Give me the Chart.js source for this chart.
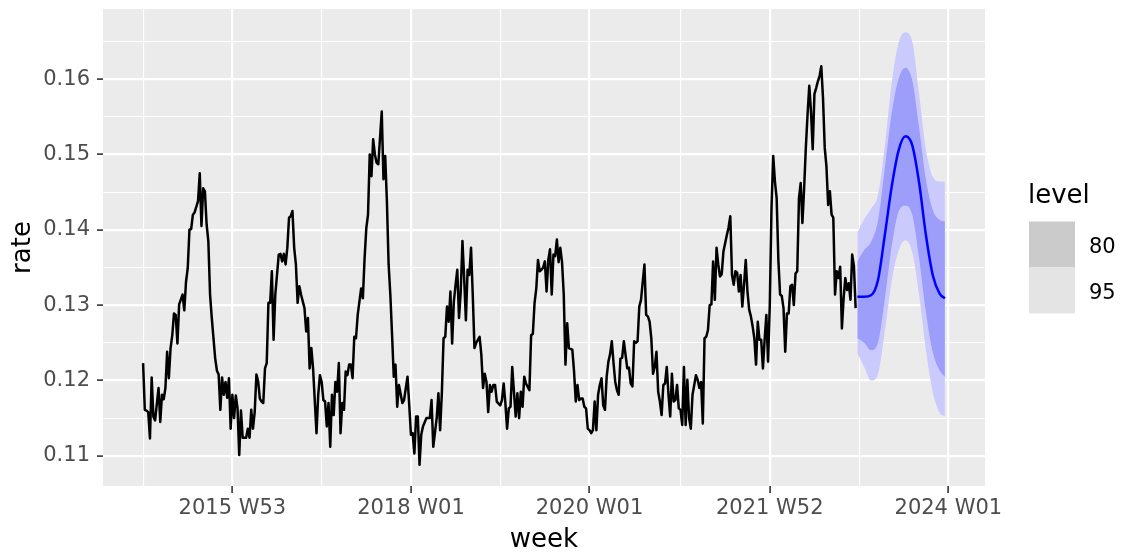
<!DOCTYPE html>
<html>
<head>
<meta charset="utf-8">
<script src="https://cdn.jsdelivr.net/npm/chart.js@4/dist/chart.umd.min.js"></script>
<style>
  html, body { margin:0; padding:0; background:#fff; }
  canvas { display:block; }
</style>
</head>
<body>
<canvas id="fc" width="1123" height="554"></canvas>
<script>
/* Weekly rate with one-year forecast (80 / 95 intervals), ggplot look. */

// observed series, keyed by week index since first obs
const obsWeek = [0,1,2,3,4,5,6,7,9,10,11,12,13,14,15,16,17,18,19,20,21,23,24,25,26,27,28,29,30,32,33,34,35,36,37,38,39,40,42,43,44,45,46,47,48,49,50,51,52,53,54,55,56,57,58,60,61,62,63,64,65,66,67,68,69,70,71,72,73,74,75,76,77,78,79,80,81,82,83,84,85,86,87,88,89,90,91,92,93,94,95,96,97,98,99,101,102,103,104,105,106,107,108,109,110,111,112,113,114,115,116,117,118,119,120,121,122,123,124,125,126,127,128,129,130,131,132,133,134,135,136,137,139,140,141,142,143,144,145,146,147,148,149,151,152,154,155,156,157,158,159,160,161,162,163,165,166,167,168,169,171,172,173,174,175,176,177,178,179,180,181,182,183,184,185,186,187,188,189,190,191,192,193,194,195,196,197,198,199,200,201,202,203,204,205,206,208,209,210,211,212,213,214,215,216,217,218,219,220,221,222,223,225,226,227,228,229,230,231,232,233,234,235,236,237,238,239,240,241,242,243,244,245,246,247,248,250,251,252,253,254,255,256,257,258,259,260,261,262,263,264,265,266,267,268,269,270,271,272,273,274,275,276,277,278,279,280,281,282,283,284,285,286,287,288,289,290,291,292,293,294,295,296,297,298,299,300,301,302,303,304,305,306,307,308,309,310,311,312,313,314,315,316,317,318,319,320,321,322,323,324,325,326,327,328,329,330,331,332,333,334,335,336,337,338,340,341,342,343,344,345,346,347,348,349,350,351,352,353,354,355,356,357,358,359,360,361,362,363,364,365,366,367,368,369,370,371,372,373,374,375,376,377,378,379,380,381,382,383,384,385,386,387,388,389,390,391,392,393,394,395,396,397,398,399,400,401,402,403,404,405,406,407,408,409,410,411,412,413,414,415];
const obsRate = [.1223,.1161,.1160,.1158,.1123,.1204,.1152,.1147,.1190,.1145,.1181,.1175,.1190,.1238,.1203,.1243,.1260,.1289,.1287,.1249,.1301,.1314,.1293,.1331,.1349,.1400,.1401,.1420,.1423,.1438,.1475,.1405,.1455,.1451,.1407,.1385,.1314,.1283,.1229,.1213,.1208,.1161,.1204,.1181,.1198,.1177,.1203,.1136,.1181,.1150,.1180,.1163,.1101,.1160,.1124,.1124,.1136,.1124,.1161,.1136,.1158,.1208,.1199,.1176,.1172,.1170,.1216,.1223,.1303,.1303,.1345,.1254,.1314,.1340,.1367,.1368,.1358,.1368,.1354,.1376,.1416,.1418,.1425,.1376,.1354,.1303,.1325,.1314,.1305,.1296,.1265,.1283,.1216,.1243,.1216,.1130,.1181,.1207,.1198,.1174,.1172,.1139,.1170,.1112,.1181,.1154,.1198,.1185,.1223,.1130,.1170,.1161,.1212,.1207,.1221,.1221,.1203,.1258,.1256,.1287,.1305,.1322,.1309,.1362,.1402,.1420,.1500,.1471,.1520,.1500,.1489,.1487,.1557,.1467,.1498,.1438,.1354,.1314,.1261,.1205,.1221,.1165,.1194,.1170,.1174,.1205,.1168,.1128,.1130,.1103,.1152,.1152,.1088,.1128,.1139,.1150,.1150,.1150,.1174,.1112,.1150,.1183,.1134,.1183,.1256,.1258,.1298,.1278,.1318,.1249,.1305,.1327,.1347,.1283,.1318,.1385,.1336,.1280,.1347,.1340,.1376,.1314,.1243,.1250,.1254,.1258,.1234,.1190,.1209,.1198,.1158,.1194,.1185,.1194,.1194,.1172,.1167,.1174,.1196,.1170,.1136,.1163,.1165,.1218,.1185,.1152,.1183,.1150,.1185,.1165,.1205,.1196,.1187,.1260,.1262,.1303,.1322,.1360,.1345,.1347,.1350,.1358,.1318,.1360,.1374,.1314,.1367,.1365,.1387,.1357,.1376,.1357,.1314,.1221,.1276,.1243,.1241,.1212,.1172,.1194,.1174,.1176,.1176,.1165,.1163,.1136,.1134,.1130,.1134,.1172,.1134,.1181,.1194,.1203,.1167,.1161,.1205,.1225,.1235,.1252,.1223,.1198,.1187,.1181,.1229,.1230,.1252,.1234,.1216,.1217,.1196,.1192,.1252,.1250,.1252,.1298,.1307,.1331,.1354,.1287,.1285,.1278,.1256,.1209,.1218,.1238,.1185,.1172,.1154,.1194,.1196,.1218,.1181,.1152,.1209,.1172,.1174,.1194,.1163,.1161,.1141,.1218,.1141,.1201,.1150,.1136,.1181,.1194,.1207,.1201,.1190,.1198,.1143,.1256,.1258,.1267,.1300,.1301,.1358,.1307,.1376,.1354,.1338,.1341,.1371,.1393,.1403,.1418,.1340,.1327,.1345,.1343,.1318,.1340,.1298,.1327,.1360,.1318,.1294,.1285,.1272,.1256,.1221,.1278,.1254,.1254,.1216,.1254,.1287,.1225,.1300,.1429,.1498,.1464,.1442,.1360,.1314,.1312,.1296,.1238,.1289,.1289,.1325,.1327,.1300,.1342,.1345,.1442,.1462,.1409,.1455,.1509,.1553,.1591,.1557,.1507,.1580,.1588,.1597,.1604,.1617,.1575,.1509,.1484,.1433,.1451,.1420,.1416,.1314,.1345,.1336,.1351,.1269,.1309,.1336,.1320,.1329,.1307,.1367,.1352,.1296];

// forecast (52 weeks ahead)
const fcWeek = [416,420,424,428,432,436,440,444,448,452,456,460,464,467];
const fcMean = [.1311,.1311,.1313,.1333,.1393,.1457,.1505,.1524,.1512,.1462,.1392,.1339,.1315,.1309];
const hi80   = [.1358,.1373,.1384,.1412,.1482,.1555,.1600,.1615,.1598,.1535,.1466,.1426,.1413,.1411];
const lo80   = [.1256,.1250,.1240,.1250,.1308,.1378,.1424,.1432,.1420,.1362,.1290,.1237,.1213,.1205];
const hi95   = [.1396,.1414,.1428,.1446,.1512,.1595,.1648,.1662,.1650,.1580,.1506,.1470,.1464,.1464];
const lo95   = [.1236,.1218,.1200,.1208,.1265,.1332,.1372,.1386,.1370,.1313,.1240,.1184,.1157,.1152];

// axis breaks
const xMajor = [52,156,260,365,469];
const xLabels = ["2015 W53","2018 W01","2020 W01","2021 W52","2024 W01"];
const xMinor = [0,104,208,313,417];
const yMajor = [0.11,0.12,0.13,0.14,0.15,0.16];
const yMinor = [0.115,0.125,0.135,0.145,0.155,0.165];

const levels = ["80","95"];
const levelKey = ["#CBCBCB","#E4E4E4"];

const FONT = '"DejaVu Sans", sans-serif';
const pts = (xs, ys) => xs.map((x,i)=>({x, y:ys[i]}));
const isMajorX = v => xMajor.indexOf(v) >= 0;
const isMajorY = v => yMajor.some(m => Math.abs(m - v) < 1e-9);

const panelBg = {
  id:"panelBg",
  beforeDraw(chart){
    const {ctx, chartArea:a} = chart;
    ctx.save(); ctx.fillStyle = "#EBEBEB";
    ctx.fillRect(a.left, a.top, a.right - a.left, a.bottom - a.top);
    ctx.restore();
  }
};

// ggplot style legend: title + stacked keys
const levelLegend = {
  id:"levelLegend",
  afterDraw(chart){
    const ctx = chart.ctx;
    ctx.save();
    ctx.fillStyle = "#000"; ctx.font = "26px " + FONT;
    ctx.textBaseline = "alphabetic"; ctx.textAlign = "left";
    ctx.fillText("level", 1028, 203);
    levels.forEach((lv,i)=>{
      const top = 221.5 + i*46;
      ctx.fillStyle = levelKey[i];
      ctx.fillRect(1029, top, 46, 46);
      ctx.fillStyle = "#000"; ctx.font = "21px " + FONT;
      ctx.fillText(lv, 1089, top + 31.5);
    });
    ctx.restore();
  }
};

const band = (data, fill, color, order) => ({
  data, fill, backgroundColor: color, borderWidth: 0, pointRadius: 0, order,
  cubicInterpolationMode:"monotone"
});

new Chart(document.getElementById("fc"), {
  type: "line",
  data: {
    datasets: [
      band(pts(fcWeek, hi95), "+1", "#CACAFC", 4),
      band(pts(fcWeek, lo95), false, "#CACAFC", 4),
      band(pts(fcWeek, hi80), "+1", "#9D9DFA", 3),
      band(pts(fcWeek, lo80), false, "#9D9DFA", 3),
      { data: pts(fcWeek, fcMean), borderColor:"#0000FF", borderWidth:2.5, pointRadius:0, fill:false,
        cubicInterpolationMode:"monotone", order:1 },
      { data: pts(obsWeek, obsRate), borderColor:"#000", borderWidth:2.5, pointRadius:0, fill:false,
        cubicInterpolationMode:"default", tension:0, borderJoinStyle:"round", order:0 }
    ]
  },
  options: {
    responsive:false, animation:false, devicePixelRatio:1,
    layout:{ padding:{ top:9, right:138, bottom:0, left:0 } },
    plugins:{ legend:{ display:false }, tooltip:{ enabled:false } },
    scales:{
      x:{
        type:"linear", min:-23.35, max:490.35,
        afterFit(s){ s.height = 68; s.paddingLeft = 0; s.paddingRight = 0; },
        afterBuildTicks(s){ s.ticks = xMinor.concat(xMajor).sort((a,b)=>a-b).map(v=>({value:v})); },
        border:{ display:false },
        grid:{
          color:"#FFFFFF",
          lineWidth: c => isMajorX(c.tick.value) ? 2.2 : 1.1,
          tickLength:7, tickWidth:1.6,
          tickColor: c => isMajorX(c.tick.value) ? "#333333" : "rgba(0,0,0,0)"
        },
        ticks:{
          autoSkip:false, maxRotation:0, minRotation:0, padding:3,
          color:"#4D4D4D", font:{ family:FONT, size:21 },
          callback: v => isMajorX(v) ? xLabels[xMajor.indexOf(v)] : ""
        },
        title:{ display:true, text:"week", color:"#000", font:{ family:FONT, size:26 }, padding:{ top:0, bottom:-2 } }
      },
      y:{
        min:0.10599, max:0.1693,
        afterFit(s){ s.width = 103; s.paddingTop = 0; s.paddingBottom = 0; },
        afterBuildTicks(s){ s.ticks = yMajor.concat(yMinor).sort((a,b)=>a-b).map(v=>({value:v})); },
        border:{ display:false },
        grid:{
          color:"#FFFFFF",
          lineWidth: c => isMajorY(c.tick.value) ? 2.2 : 1.1,
          tickLength:6, tickWidth:1.6,
          tickColor: c => isMajorY(c.tick.value) ? "#333333" : "rgba(0,0,0,0)"
        },
        ticks:{
          autoSkip:false, padding:7,
          color:"#4D4D4D", font:{ family:FONT, size:21 },
          callback: v => isMajorY(v) ? v.toFixed(2) : ""
        },
        title:{ display:true, text:"rate", color:"#000", font:{ family:FONT, size:26 }, padding:{ top:8, bottom:0 } }
      }
    }
  },
  plugins:[panelBg, levelLegend]
});
</script>
</body>
</html>
